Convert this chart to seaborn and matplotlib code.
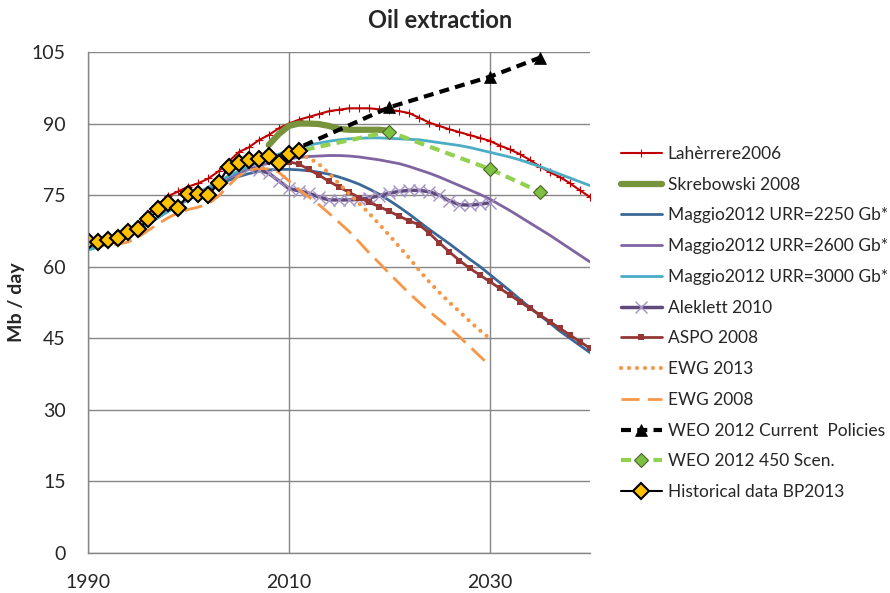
import matplotlib
matplotlib.use("Agg")
import matplotlib.pyplot as plt
import seaborn as sns

# years
years_full = list(range(1990, 2041))
years_hist = list(range(1990, 2012))
years_skr = list(range(2008, 2021))
years_alek = list(range(2006, 2031))
years_aspo = list(range(2008, 2041))
years_ewg13 = list(range(2011, 2031))
years_ewg08 = list(range(1990, 2031))
years_weo = [2010, 2020, 2030, 2035]

# values in Mb / day
laherrere = [65.5, 65.6, 66.0, 66.5, 67.5, 69.0, 71.0, 73.0, 74.8, 75.8,
             76.8, 77.5, 78.5, 80.0, 82.0, 84.0, 85.0, 86.5, 87.6, 89.0,
             90.0, 90.8, 91.4, 92.0, 92.6, 92.9, 93.2, 93.2, 93.2, 93.0,
             92.9, 92.6, 92.2, 91.2, 90.2, 89.5, 88.8, 88.2, 87.6, 87.0,
             86.4, 85.4, 84.6, 83.6, 82.4, 81.0, 79.8, 78.8, 77.5, 76.0, 74.6]
skrebowski = [85.5, 87.8, 89.5, 90.0, 90.0, 89.9, 89.5, 88.9, 88.7, 88.7,
              88.7, 88.7, 88.5]
maggio_2250 = [63.7, 64.3, 65.0, 65.8, 66.8, 67.9, 69.1, 70.4, 71.7, 72.9,
               74.1, 75.2, 76.2, 77.2, 78.1, 78.9, 79.5, 80.0, 80.3, 80.4,
               80.4, 80.3, 80.1, 79.8, 79.4, 78.8, 78.1, 77.3, 76.3, 75.2,
               73.9, 72.5, 71.0, 69.4, 67.8, 66.3, 64.8, 63.2, 61.6, 60.1,
               58.4, 56.7, 55.0, 53.2, 51.5, 49.8, 48.2, 46.5, 45.0, 43.5, 42.0]
maggio_2600 = [63.7, 64.3, 65.0, 65.8, 66.8, 67.9, 69.1, 70.4, 71.7, 73.0,
               74.3, 75.5, 76.6, 77.7, 78.7, 79.6, 80.4, 81.1, 81.7, 82.2,
               82.6, 82.9, 83.1, 83.2, 83.3, 83.3, 83.2, 83.0, 82.7, 82.4,
               82.0, 81.6, 81.0, 80.3, 79.6, 78.8, 77.9, 77.0, 76.1, 75.2,
               74.2, 73.0, 71.8, 70.5, 69.2, 67.9, 66.6, 65.2, 63.8, 62.4, 61.0]
maggio_3000 = [63.5, 64.1, 64.8, 65.7, 66.7, 67.8, 69.0, 70.3, 71.6, 72.9,
               74.3, 75.5, 76.7, 77.9, 79.0, 80.0, 81.0, 81.9, 82.8, 83.6,
               84.3, 84.9, 85.5, 85.9, 86.3, 86.6, 86.8, 86.9, 87.0, 87.0,
               86.9, 86.8, 86.7, 86.6, 86.3, 86.0, 85.7, 85.4, 85.0, 84.5,
               84.0, 83.5, 83.0, 82.4, 81.7, 81.0, 80.2, 79.4, 78.6, 77.8, 77.0]
aleklett = [80.6, 80.3, 79.6, 78.0, 76.4, 75.9, 75.4, 74.6, 74.0, 74.0,
            74.0, 74.1, 74.4, 74.9, 75.4, 75.8, 76.0, 76.0, 75.7, 75.0,
            73.8, 73.0, 72.9, 73.1, 73.4]
aspo = [82.5, 82.3, 82.0, 81.5, 80.4, 79.2, 77.9, 76.7, 75.6, 74.5,
        73.5, 72.6, 71.6, 70.6, 69.6, 68.8, 67.0, 65.0, 63.1, 61.3,
        59.7, 58.3, 56.9, 55.5, 54.1, 52.7, 51.3, 49.9, 48.5, 47.1,
        45.7, 44.3, 42.9]
ewg_2013 = [83.5, 82.8, 81.5, 79.6, 77.4, 75.3, 73.3, 71.2, 68.9, 66.6,
            64.2, 61.8, 59.2, 56.8, 54.6, 52.5, 50.6, 48.6, 46.7, 45.0]
ewg_2008 = [64.8, 64.6, 64.5, 64.7, 65.2, 66.2, 67.6, 69.0, 70.3, 71.3,
            72.0, 72.5, 73.2, 74.8, 77.0, 79.0, 80.2, 80.6, 80.5, 79.8,
            78.0, 76.2, 74.6, 73.0, 71.2, 69.3, 67.4, 65.2, 62.9, 60.8,
            58.6, 56.5, 54.4, 52.5, 50.6, 48.9, 47.2, 45.3, 43.3, 41.3, 39.3]
weo_current = [84.0, 93.4, 99.8, 103.8]
weo_450 = [83.8, 88.3, 80.5, 75.7]
historical = [65.3, 65.2, 65.7, 66.0, 67.2, 68.0, 69.9, 72.0, 73.4, 72.4,
              75.2, 75.2, 75.0, 77.5, 80.9, 81.8, 82.4, 82.6, 83.1, 81.7,
              83.6, 84.2]

sns.set_style("white")
plt.rcParams['font.family'] = ['Lato', 'DejaVu Sans']

fig = plt.figure(figsize=(8.9, 5.93), dpi=100)
ax = fig.add_axes([0.0989, 0.0675, 0.564, 0.8448])

series = [
    ("Lahèrrere2006", years_full, laherrere,
     dict(color="#C00000", lw=1.5, marker="+", markersize=6,
          markeredgewidth=0.8, markeredgecolor="#C00000")),
    ("Skrebowski 2008", years_skr, skrebowski,
     dict(color="#77933C", lw=4.5, solid_capstyle="round")),
    ("Maggio2012 URR=2250 Gb*", years_full, maggio_2250,
     dict(color="#3B6896", lw=2)),
    ("Maggio2012 URR=2600 Gb*", years_full, maggio_2600,
     dict(color="#8064A2", lw=2)),
    ("Maggio2012 URR=3000 Gb*", years_full, maggio_3000,
     dict(color="#4BACC6", lw=2)),
    ("Aleklett 2010", years_alek, aleklett,
     dict(color="#604A7B", lw=2.5, marker="x", markersize=8,
          markeredgewidth=1.0, markeredgecolor="#A493C4")),
    ("ASPO 2008", years_aspo, aspo,
     dict(color="#953735", lw=2, marker="s", markersize=4.5,
          markeredgewidth=0, markeredgecolor="#953735")),
    ("EWG 2013", years_ewg13, ewg_2013,
     dict(color="#F79646", lw=3, linestyle=(0, (0.01, 1.9)),
          dash_capstyle="round")),
    ("EWG 2008", years_ewg08, ewg_2008,
     dict(color="#F79646", lw=2, linestyle=(0, (6.5, 3)))),
    ("WEO 2012 Current  Policies", years_weo, weo_current,
     dict(color="black", lw=3, linestyle=(0, (2.4, 1.5)), marker="^",
          markersize=9, markeredgecolor="black", markeredgewidth=0.5,
          markevery=[1, 2, 3])),
    ("WEO 2012 450 Scen.", years_weo, weo_450,
     dict(color="#92D050", lw=3, linestyle=(0, (2.4, 1.5)), marker="D",
          markersize=7.5, markerfacecolor="#7CC142", markeredgecolor="#4F6228",
          markeredgewidth=0.8, markevery=[1, 2, 3])),
    ("Historical data BP2013", years_hist, historical,
     dict(color="black", lw=1.5, marker="D", markersize=8,
          markerfacecolor="#FFC000", markeredgecolor="black",
          markeredgewidth=1.5)),
]

for label, xs, ys, style in series:
    sns.lineplot(x=xs, y=ys, ax=ax, label=label, **style)

ax.set_xlim(1990, 2040)
ax.set_ylim(0, 105)
ax.set_xticks([1990, 2010, 2030])
ax.set_yticks(list(range(0, 106, 15)))
ax.grid(True, color="#868686", lw=1)
ax.set_axisbelow(True)
for side in ["top", "right"]:
    ax.spines[side].set_visible(False)
for side in ["left", "bottom"]:
    ax.spines[side].set_color("#868686")
    ax.spines[side].set_linewidth(1)
ax.tick_params(axis="y", length=4, color="#868686", pad=12, labelsize=14)
ax.tick_params(axis="x", length=0, pad=15, labelsize=14)

ax.set_ylabel("Mb / day", fontsize=14, fontweight="bold")
ax.yaxis.set_label_coords(-0.125, 0.5)
ax.set_xlabel("")

fig.text(0.494, 0.966, "Oil extraction", ha="center", va="center",
         fontsize=17, fontweight="bold")

handles, labels = ax.get_legend_handles_labels()
ax.legend(handles, labels, loc="center left", bbox_to_anchor=(1.03, 0.459),
          frameon=False, fontsize=12.5, handlelength=2.4, handletextpad=0.3,
          labelspacing=0.85, borderaxespad=0.5)

fig.savefig("out.png", dpi=100)
